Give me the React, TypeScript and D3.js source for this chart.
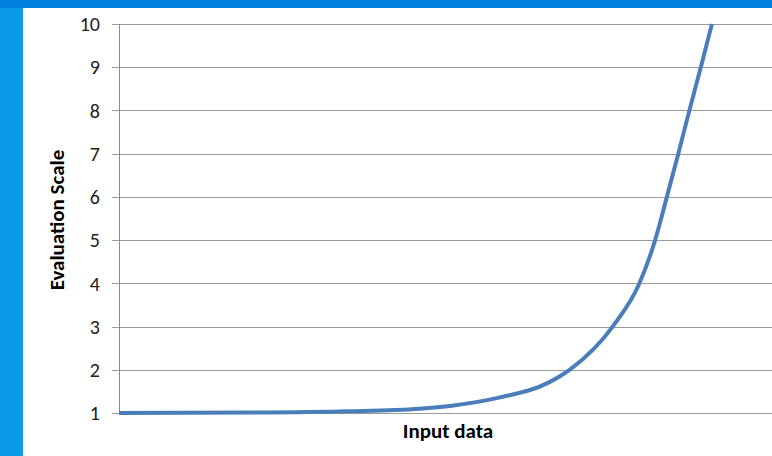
import * as d3 from 'd3';

// input positions (arbitrary units, 0..100 across the plot) and the evaluation
const inputs = [0, 20, 35, 46, 51, 58, 66, 69, 75.6, 79.7, 82.1, 83.9, 85.65, 87.35, 89.1, 90.8];
const scores = [1.0, 1.01, 1.04, 1.1, 1.17, 1.35, 1.72, 2.0, 3.0, 4.0, 5.0, 6.0, 7.0, 8.0, 9.0, 10.0];
const yTicks = [1, 2, 3, 4, 5, 6, 7, 8, 9, 10];

const W = 772;
const H = 456;
const margin = { top: 24, right: 0, bottom: 43, left: 119 };

export default function App() {
  const x = d3.scaleLinear().domain([0, 100]).range([margin.left, W - margin.right]);
  const y = d3.scaleLinear().domain([1, 10]).range([H - margin.bottom, margin.top]);

  const line = d3
    .line<number>()
    .x((_, i) => x(inputs[i]))
    .y((d) => y(d))
    .curve(d3.curveMonotoneX);

  const font = 'Carlito, "Open Sans", "Liberation Sans", sans-serif';

  return (
    <div style={{ position: 'fixed', left: 0, top: 0 }}>
      <svg width={W} height={H} style={{ display: 'block' }}>
        <rect x={0} y={0} width={W} height={H} fill="#0a9ae8" />
        <rect x={0} y={0} width={W} height={8} fill="#0081e0" />
        <rect x={23} y={8} width={W - 23} height={H - 8} fill="#ffffff" />

        {yTicks.map((t) => (
          <g key={t}>
            <line
              x1={margin.left - 7}
              x2={W}
              y1={Math.round(y(t)) + 0.5}
              y2={Math.round(y(t)) + 0.5}
              stroke="#9a9a9a"
              strokeWidth={1}
            />
            <text
              x={100}
              y={y(t)}
              dy="0.36em"
              textAnchor="end"
              fontFamily={font}
              fontSize={20}
              fill="#222"
            >
              {t}
            </text>
          </g>
        ))}

        <line
          x1={margin.left + 0.5}
          x2={margin.left + 0.5}
          y1={y(10)}
          y2={y(1)}
          stroke="#8c8c8c"
          strokeWidth={1}
        />

        <path d={line(scores) ?? ''} fill="none" stroke="#4a7ebb" strokeWidth={4} strokeLinecap="butt" />

        <text
          transform={`translate(64,${220}) rotate(-90)`}
          textAnchor="middle"
          fontFamily={font}
          fontWeight="bold"
          fontSize={21}
          fill="#000"
        >
          Evaluation Scale
        </text>
        <text
          x={448}
          y={438}
          textAnchor="middle"
          fontFamily={font}
          fontWeight="bold"
          fontSize={21}
          fill="#000"
        >
          Input data
        </text>
      </svg>
    </div>
  );
}
